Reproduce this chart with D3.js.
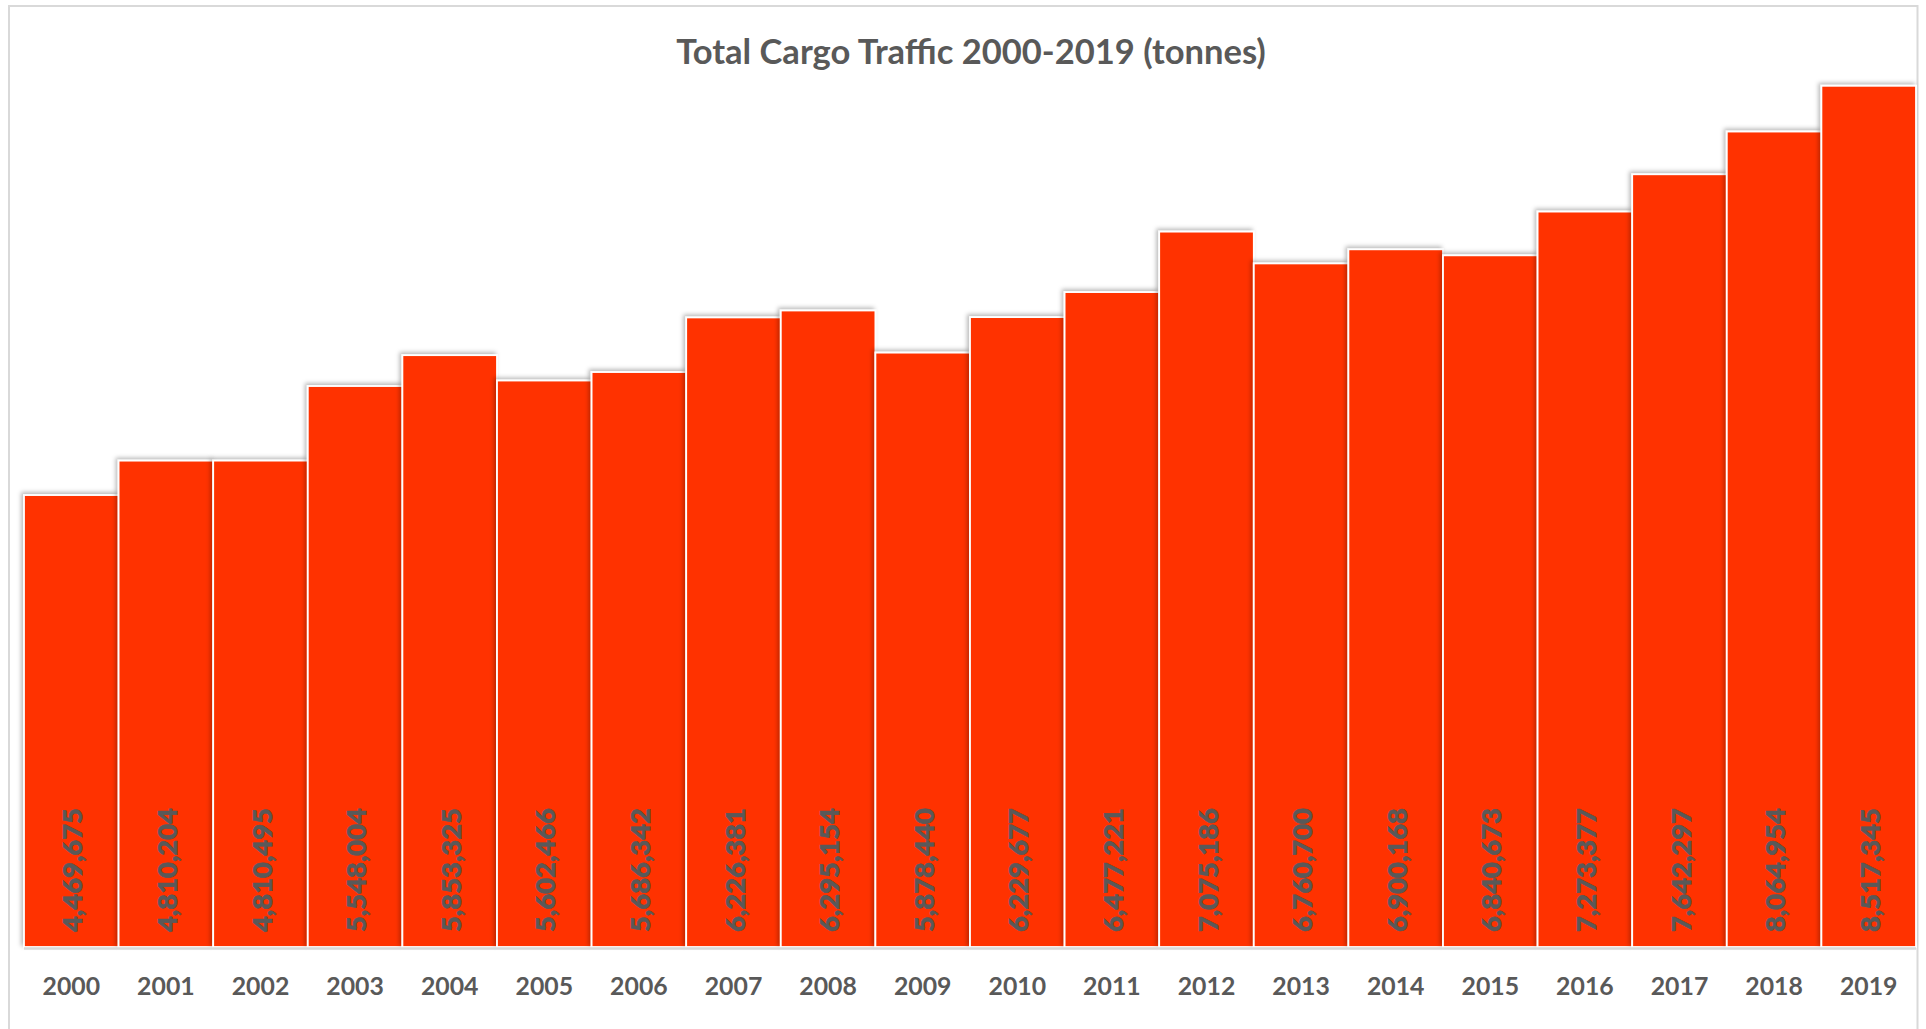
<!DOCTYPE html>
<html>
<head>
<meta charset="utf-8">
<script src="https://cdn.jsdelivr.net/npm/d3@7"></script>
<style>
  html, body { margin: 0; padding: 0; background: #ffffff; }
  svg { display: block; }
  text { font-family: Lato, "Open Sans", sans-serif; font-weight: bold; fill: #595959; }
</style>
</head>
<body>
<svg id="chart" width="1926" height="1029"></svg>
<script>
const title = "Total Cargo Traffic 2000-2019 (tonnes)";
const years = ["2000","2001","2002","2003","2004","2005","2006","2007","2008","2009",
               "2010","2011","2012","2013","2014","2015","2016","2017","2018","2019"];
const cargo = [4469675, 4810204, 4810495, 5548004, 5853325, 5602466, 5686342, 6226381, 6295154, 5878440,
               6229677, 6477221, 7075186, 6760700, 6900168, 6840673, 7273377, 7642297, 8064954, 8517345];
const yMax = 9000000;

const W = 1926, H = 1029;
const plot = { left: 24, right: 1916, top: 37, bottom: 947 };

const svg = d3.select("#chart");

const defs = svg.append("defs");
const f = defs.append("filter").attr("id", "shadow")
  .attr("x", "-10%").attr("y", "-10%").attr("width", "120%").attr("height", "120%");
f.append("feDropShadow").attr("dx", -2).attr("dy", -2).attr("stdDeviation", 2)
  .attr("flood-color", "#000").attr("flood-opacity", 0.28);

// chart border
svg.append("rect")
  .attr("x", 9).attr("y", 6).attr("width", 1917.5 - 9).attr("height", H + 20)
  .attr("fill", "none").attr("stroke", "#d9d9d9").attr("stroke-width", 2);

const x = d3.scaleBand().domain(years).range([plot.left, plot.right]).padding(0);
const y = d3.scaleLinear().domain([0, yMax]).range([plot.bottom, plot.top]);

const data = years.map((yr, i) => ({ year: yr, value: cargo[i] }));

svg.append("g")
  .selectAll("rect")
  .data(data)
  .join("rect")
  .attr("x", d => x(d.year))
  .attr("y", d => y(d.value))
  .attr("width", x.bandwidth())
  .attr("height", d => y(0) - y(d.value))
  .attr("fill", "#ff3300")
  .attr("stroke", "#ffffff")
  .attr("stroke-width", 1.8)
  .attr("filter", "url(#shadow)");

svg.append("line")
  .attr("x1", plot.left).attr("x2", plot.right)
  .attr("y1", y(0) + 1.5).attr("y2", y(0) + 1.5)
  .attr("stroke", "#d9d9d9").attr("stroke-width", 2.5);

function fitSize(sample, target, base, weight) {
  const t = svg.append("text").attr("font-size", base).style("font-weight", weight || "bold").text(sample);
  const w = t.node().getComputedTextLength();
  t.remove();
  return base * target / w;
}

const yearSize = fitSize("2000", 57.6, 28);
const xAxis = d3.axisBottom(x).tickSize(0).tickPadding(0);
const gx = svg.append("g").attr("transform", `translate(0,${plot.bottom})`).call(xAxis);
gx.select(".domain").remove();
gx.selectAll("text")
  .attr("font-size", yearSize)
  .attr("font-family", "Lato, 'Open Sans', sans-serif")
  .attr("font-weight", "bold")
  .attr("fill", "#595959")
  .attr("y", 39)
  .attr("dy", "0.35em");

const fmt = d3.format(",");
const labelSize = fitSize("4,469,675", 124, 28, 900);
svg.append("g")
  .selectAll("text")
  .data(data)
  .join("text")
  .attr("font-size", labelSize)
  .style("font-weight", 900)
  .attr("stroke", "#595959")
  .attr("stroke-width", 0.6)
  .attr("text-anchor", "start")
  .attr("dominant-baseline", "central")
  .attr("transform", d => `translate(${x(d.year) + x.bandwidth() / 2 + 0.5},${plot.bottom - 15}) rotate(-90)`)
  .text(d => fmt(d.value));

const titleSize = fitSize(title, 590, 36);
svg.append("text")
  .attr("x", (plot.left + plot.right) / 2 + 1)
  .attr("y", 50)
  .attr("text-anchor", "middle")
  .attr("dominant-baseline", "central")
  .attr("font-size", titleSize)
  .text(title);
</script>
</body>
</html>
